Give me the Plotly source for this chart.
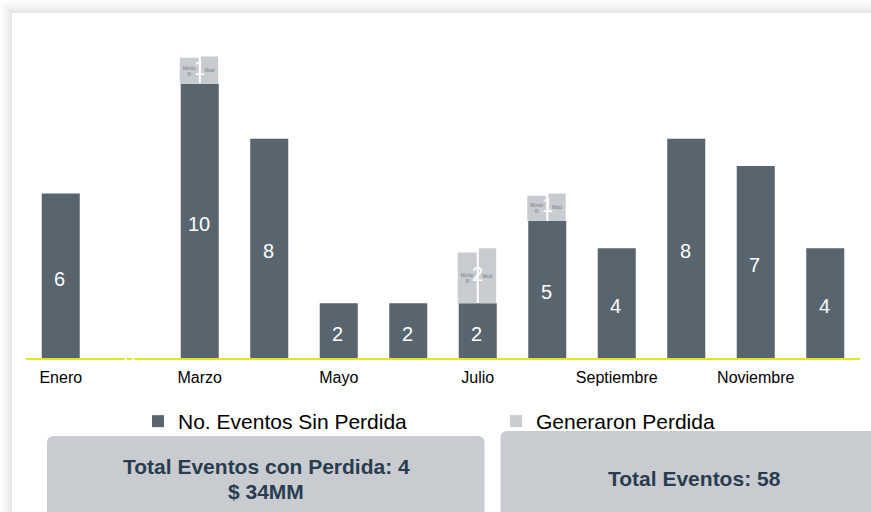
import plotly.graph_objects as go

meses = ["Enero", "Febrero", "Marzo", "Abril", "Mayo", "Junio", "Julio", "Agosto",
         "Septiembre", "Octubre", "Noviembre", "Diciembre"]
etiquetas_eje = ["Enero", "Marzo", "Mayo", "Julio", "Septiembre", "Noviembre"]
sin_perdida = [6, 0, 10, 8, 2, 2, 2, 5, 4, 8, 7, 4]
generaron_perdida = [0, 0, 1, 0, 0, 0, 2, 1, 0, 0, 0, 0]
panel_izquierdo = [0, 0, 0.95, 0, 0, 0, 1.85, 0.92, 0, 0, 0, 0]

OSCURO = "#58656F"
CLARO = "#C8CCD1"
TEXTO_CAJA = "#2A3D4F"
FONT = "Liberation Sans, Arial, sans-serif"

meses_perdida = [m for m, g in zip(meses, generaron_perdida) if g]
base_perdida = [s for s, g in zip(sin_perdida, generaron_perdida) if g]
valor_perdida = [g for g in generaron_perdida if g]
valor_izq = [p for p in panel_izquierdo if p]
centro_perdida = [b + v / 2 for b, v in zip(base_perdida, valor_perdida)]

fig = go.Figure()

fig.add_bar(
    x=meses, y=sin_perdida, name="No. Eventos Sin Perdida",
    marker=dict(color=OSCURO, line_width=0), width=0.547, legend="legend",
)
fig.add_bar(
    x=meses_perdida, y=valor_izq, base=base_perdida, name="Generaron Perdida",
    marker=dict(color=CLARO, line_width=0), width=0.274, offset=-0.288, legend="legend2",
    text=["Monto<br>III"] * len(meses_perdida), textposition="inside", insidetextanchor="middle",
    textangle=0, textfont=dict(color="#6F7A85", size=5, family=FONT),
)
fig.add_bar(
    x=meses_perdida, y=valor_perdida, base=base_perdida, showlegend=False,
    marker=dict(color=CLARO, line_width=0), width=0.25, offset=0.015,
    text=["Mod"] * len(meses_perdida), textposition="inside", insidetextanchor="middle",
    textangle=0, textfont=dict(color="#6F7A85", size=5, family=FONT),
)

W, H = 871, 512
ML, MR, MT, MB = 26, 11, 29, 154

def px(x):
    return (x - ML) / (W - ML - MR)

def py(y):
    return (H - MB - y) / (H - MT - MB)

shapes = []
for i, c in enumerate(["#FCFCFC", "#F9F9F9", "#F6F6F6", "#F2F2F2", "#EDEDED", "#E7E7E7"]):
    off = 12 - i * 2
    shapes.append(dict(type="rect", xref="paper", yref="paper", layer="below",
                       x0=px(12 - off), x1=px(W + 40), y0=py(H + 40), y1=py(13 - off),
                       fillcolor=c, line_width=0))
shapes.append(dict(type="rect", xref="paper", yref="paper", layer="below",
                   x0=px(12), x1=px(W + 40), y0=py(H + 40), y1=py(13),
                   fillcolor="white", line_width=0))

def caja(x0, y0, x1, y1, redondear_derecha):
    r = 7
    izq = f"M{px(x0 + r)},{py(y0)} "
    if redondear_derecha:
        der = f"L{px(x1 - r)},{py(y0)} Q{px(x1)},{py(y0)} {px(x1)},{py(y0 + r)} "
    else:
        der = f"L{px(x1)},{py(y0)} "
    cierre = f"L{px(x1)},{py(y1)} L{px(x0)},{py(y1)} L{px(x0)},{py(y0 + r)} Q{px(x0)},{py(y0)} {px(x0 + r)},{py(y0)} Z"
    return dict(type="path", xref="paper", yref="paper", path=izq + der + cierre,
                fillcolor=CLARO, line_width=0)

shapes.append(caja(47, 436, 484.5, H + 30, True))
shapes.append(caja(500.5, 431, W + 30, H + 30, False))

fuente_caja = dict(size=21, color=TEXTO_CAJA, family=FONT)
annotations = [
    dict(xref="paper", yref="paper", x=px(266), y=py(466), showarrow=False,
         xanchor="center", yanchor="middle",
         text="<b>Total Eventos con Perdida: 4</b>", font=fuente_caja),
    dict(xref="paper", yref="paper", x=px(266), y=py(491), showarrow=False,
         xanchor="center", yanchor="middle",
         text="<b>$ 34MM</b>", font=fuente_caja),
    dict(xref="paper", yref="paper", x=px(694), y=py(478), showarrow=False,
         xanchor="center", yanchor="middle",
         text="<b>Total Eventos: 58</b>", font=fuente_caja),
]
# etiquetas blancas, centradas en cada segmento
for m, v in zip(meses, sin_perdida):
    annotations.append(dict(x=m, y=v / 2, text=str(v), showarrow=False, yshift=-3, xshift=-1,
                            font=dict(size=20, color="white", family=FONT)))
for m, c, v in zip(meses_perdida, centro_perdida, valor_perdida):
    annotations.append(dict(x=m, y=c, text=str(v), showarrow=False, yshift=2,
                            font=dict(size=20, color="white", family=FONT)))

fig.update_layout(
    width=W, height=H, autosize=False,
    margin=dict(l=ML, r=MR, t=MT, b=MB),
    barmode="overlay",
    paper_bgcolor="white", plot_bgcolor="rgba(0,0,0,0)",
    font=dict(family=FONT, color="#000000"),
    xaxis=dict(
        categoryorder="array", categoryarray=meses,
        tickmode="array", tickvals=etiquetas_eje, ticktext=etiquetas_eje,
        showgrid=False, zeroline=False, showline=True, linecolor="#E2E81F", linewidth=2,
        ticks="outside", ticklen=4, tickcolor="rgba(0,0,0,0)",
        tickfont=dict(size=16, color="#000000", family=FONT),
    ),
    yaxis=dict(range=[0, 12], visible=False),
    legend=dict(
        x=px(138), y=py(401), xanchor="left", yanchor="top",
        font=dict(size=21, color="#000000", family=FONT), bgcolor="rgba(0,0,0,0)",
    ),
    legend2=dict(
        x=px(496), y=py(401), xanchor="left", yanchor="top",
        font=dict(size=21, color="#000000", family=FONT), bgcolor="rgba(0,0,0,0)",
    ),
    shapes=shapes, annotations=annotations,
    showlegend=True,
)

fig.write_html("out.html", post_script="document.body.style.margin='0';",
               config={"displayModeBar": False})
